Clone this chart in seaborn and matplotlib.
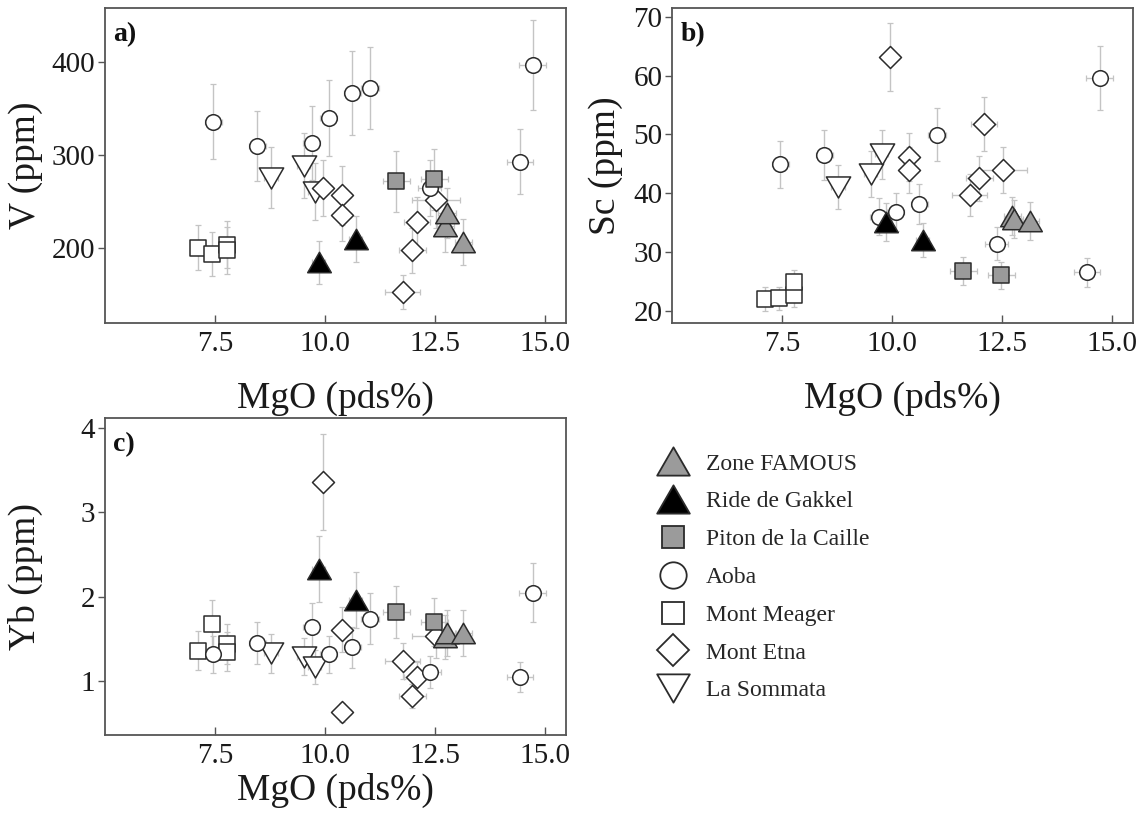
import numpy as np
import matplotlib
matplotlib.use("Agg")
import matplotlib.pyplot as plt
from matplotlib.lines import Line2D
from matplotlib.path import Path
import pandas as pd
import seaborn as sns

sns.set_theme(style="ticks")
plt.rcParams['font.family'] = ['Liberation Serif', 'DejaVu Serif']

# --- data (MgO in pds%, V/Sc/Yb in ppm) ---
groups = ['Zone FAMOUS', 'Ride de Gakkel', 'Piton de la Caille', 'Aoba',
          'Mont Meager', 'Mont Etna', 'La Sommata']

famous_mgo = [12.73, 12.77, 13.14]
famous_v = [224, 238, 207]
famous_sc = [36.1, 35.6, 35.3]
famous_yb = [1.52, 1.57, 1.57]
famous_mgo_err = [0.2, 0.2, 0.2]
famous_v_err = [28, 27, 25]
famous_sc_err = [3.2, 3.2, 3.2]
famous_yb_err = [0.26, 0.27, 0.27]

gakkel_mgo = [9.85, 10.69]
gakkel_v = [185, 210]
gakkel_sc = [35.1, 32.0]
gakkel_yb = [2.33, 1.96]
gakkel_mgo_err = [0.15, 0.15]
gakkel_v_err = [23, 25]
gakkel_sc_err = [3.2, 2.9]
gakkel_yb_err = [0.39, 0.33]

piton_mgo = [11.62, 12.48]
piton_v = [272, 274]
piton_sc = [26.8, 26.0]
piton_yb = [1.82, 1.70]
piton_mgo_err = [0.3, 0.3]
piton_v_err = [33, 33]
piton_sc_err = [2.4, 2.3]
piton_yb_err = [0.31, 0.29]

aoba_mgo = [7.46, 8.46, 9.69, 10.08, 10.62, 11.02, 12.37, 14.43, 14.71]
aoba_v = [336, 310, 313, 340, 367, 372, 265, 293, 397]
aoba_sc = [44.9, 46.5, 36.0, 36.8, 38.2, 49.9, 31.4, 26.5, 59.6]
aoba_yb = [1.32, 1.45, 1.64, 1.32, 1.40, 1.74, 1.11, 1.05, 2.05]
aoba_mgo_err = [0.2, 0.2, 0.2, 0.2, 0.2, 0.2, 0.25, 0.3, 0.3]
aoba_v_err = [40, 38, 40, 41, 45, 44, 30, 35, 48]
aoba_sc_err = [4.0, 4.2, 3.2, 3.3, 3.4, 4.5, 2.8, 2.4, 5.4]
aoba_yb_err = [0.22, 0.25, 0.28, 0.22, 0.24, 0.30, 0.19, 0.18, 0.35]

meager_mgo = [7.11, 7.44, 7.77, 7.77]
meager_v = [201, 194, 204, 198]
meager_sc = [22.0, 22.1, 22.6, 24.8]
meager_yb = [1.36, 1.68, 1.44, 1.35]
meager_mgo_err = [0.15, 0.15, 0.15, 0.15]
meager_v_err = [24, 24, 25, 25]
meager_sc_err = [2.0, 2.0, 2.0, 2.2]
meager_yb_err = [0.23, 0.28, 0.24, 0.23]

etna_mgo = [9.95, 10.39, 10.39, 12.52, 12.09, 11.98, 11.76]
etna_v = [265, 257, 236, 252, 228, 198, 153]
etna_sc = [63.2, 46.1, 43.9, 43.9, 51.7, 42.5, 39.7]
etna_yb = [3.36, 1.61, 0.63, 1.53, 1.05, 0.82, 1.24]
etna_mgo_err = [0.2, 0.2, 0.2, 0.55, 0.3, 0.3, 0.4]
etna_v_err = [30, 32, 28, 30, 27, 24, 18]
etna_sc_err = [5.8, 4.1, 3.9, 3.9, 4.6, 3.8, 3.6]
etna_yb_err = [0.57, 0.27, 0.11, 0.26, 0.18, 0.14, 0.21]

sommata_mgo = [8.77, 9.51, 9.76]
sommata_v = [276, 289, 261]
sommata_sc = [41.0, 43.2, 46.6]
sommata_yb = [1.33, 1.29, 1.17]
sommata_mgo_err = [0.15, 0.15, 0.15]
sommata_v_err = [33, 35, 31]
sommata_sc_err = [3.7, 3.9, 4.2]
sommata_yb_err = [0.23, 0.22, 0.20]


def make_df(name, mgo, v, sc, yb, mgo_err, v_err, sc_err, yb_err):
    return pd.DataFrame({'group': name, 'MgO': mgo, 'V': v, 'Sc': sc, 'Yb': yb,
                         'MgO_err': mgo_err, 'V_err': v_err,
                         'Sc_err': sc_err, 'Yb_err': yb_err})


df = pd.concat([
    make_df('Zone FAMOUS', famous_mgo, famous_v, famous_sc, famous_yb,
            famous_mgo_err, famous_v_err, famous_sc_err, famous_yb_err),
    make_df('Ride de Gakkel', gakkel_mgo, gakkel_v, gakkel_sc, gakkel_yb,
            gakkel_mgo_err, gakkel_v_err, gakkel_sc_err, gakkel_yb_err),
    make_df('Piton de la Caille', piton_mgo, piton_v, piton_sc, piton_yb,
            piton_mgo_err, piton_v_err, piton_sc_err, piton_yb_err),
    make_df('Aoba', aoba_mgo, aoba_v, aoba_sc, aoba_yb,
            aoba_mgo_err, aoba_v_err, aoba_sc_err, aoba_yb_err),
    make_df('Mont Meager', meager_mgo, meager_v, meager_sc, meager_yb,
            meager_mgo_err, meager_v_err, meager_sc_err, meager_yb_err),
    make_df('Mont Etna', etna_mgo, etna_v, etna_sc, etna_yb,
            etna_mgo_err, etna_v_err, etna_sc_err, etna_yb_err),
    make_df('La Sommata', sommata_mgo, sommata_v, sommata_sc, sommata_yb,
            sommata_mgo_err, sommata_v_err, sommata_sc_err, sommata_yb_err),
], ignore_index=True)

# equilateral triangles as closed paths (matplotlib's ^ is taller than wide)
tri_up = Path([(-1, -0.866), (1, -0.866), (0, 0.866), (-1, -0.866)], closed=True)
tri_down = Path([(-1, 0.866), (1, 0.866), (0, -0.866), (-1, 0.866)], closed=True)

GRAY = '#9b9b9b'
EDGE = '#2b2b2b'
# marker, scatter size, legend size, face colour
style = {
    'Zone FAMOUS': (tri_up, 17.0, 23.5, GRAY),
    'Ride de Gakkel': (tri_up, 17.0, 23.5, 'black'),
    'Piton de la Caille': ('s', 11.0, 16.5, GRAY),
    'Aoba': ('o', 11.2, 19.0, 'white'),
    'Mont Meager': ('s', 11.3, 16.5, 'white'),
    'Mont Etna': ('D', 11.2, 16.5, 'white'),
    'La Sommata': (tri_down, 17.5, 23.5, 'white'),
}
draw_order = ['La Sommata', 'Mont Etna', 'Mont Meager', 'Aoba',
              'Piton de la Caille', 'Ride de Gakkel', 'Zone FAMOUS']

W, H = 1143, 816
fig = plt.figure(figsize=(W / 100, H / 100), dpi=100)


def px_axes(left, top, right, bottom):
    return fig.add_axes([left / W, 1 - bottom / H, (right - left) / W, (bottom - top) / H])


ax_a = px_axes(105, 8, 566, 323)
ax_b = px_axes(672, 8, 1133, 323)
ax_c = px_axes(105, 418, 566, 735)

panels = [
    (ax_a, 'V', 'V (ppm)', 'a)', (120, 458), [200, 300, 400], -0.134, -0.183),
    (ax_b, 'Sc', 'Sc (ppm)', 'b)', (17.9, 71.5), [20, 30, 40, 50, 60, 70], -0.106, -0.183),
    (ax_c, 'Yb', 'Yb (ppm)', 'c)', (0.36, 4.12), [1, 2, 3, 4], -0.134, -0.12),
]

for ax, col, ylab, tag, ylim, yticks, ylab_x, xlab_y in panels:
    for g in draw_order:
        sub = df[df['group'] == g]
        ax.errorbar(sub['MgO'], sub[col], yerr=sub[col + '_err'], xerr=sub['MgO_err'],
                    fmt='none', ecolor='#c4c4c4', elinewidth=1.0, capsize=2.2,
                    capthick=0.9, zorder=1)
    for g in draw_order:
        sub = df[df['group'] == g]
        marker, size, _, face = style[g]
        sns.scatterplot(data=sub, x='MgO', y=col, ax=ax, marker=marker, s=size ** 2,
                        color=face, edgecolor=EDGE, linewidth=1.1, legend=False, zorder=3)
    ax.set_xlim(5.0, 15.47)
    ax.set_ylim(*ylim)
    ax.set_xticks([7.5, 10.0, 12.5, 15.0])
    ax.set_xticklabels(['7.5', '10.0', '12.5', '15.0'])
    ax.set_yticks(yticks)
    ax.tick_params(axis='x', direction='in', length=6, width=1, color='#555555',
                   labelsize=21, pad=6, labelcolor='#1a1a1a')
    ax.tick_params(axis='y', direction='out', length=5, width=1, color='#555555',
                   labelsize=21, pad=2, labelcolor='#1a1a1a')
    for sp in ax.spines.values():
        sp.set_visible(True)
        sp.set_color('#555555')
        sp.set_linewidth(1.3)
    ax.set_xlabel('MgO (pds%)', fontsize=27, color='#1a1a1a')
    ax.set_ylabel(ylab, fontsize=27, color='#1a1a1a')
    ax.xaxis.set_label_coords(0.5, xlab_y)
    ax.yaxis.set_label_coords(ylab_x, 0.5)
    ax.text(0.018, 0.955, tag, transform=ax.transAxes, fontsize=20, fontweight='bold',
            va='top', ha='left', color='#111111')

handles = []
for g in groups:
    marker, _, lsize, face = style[g]
    handles.append(Line2D([], [], linestyle='none', marker=marker, markersize=lsize,
                          markerfacecolor=face, markeredgecolor=EDGE, markeredgewidth=1.3))
fig.legend(handles, groups, loc='upper left', bbox_to_anchor=(655 / W, 1 - 453 / H),
           frameon=False, fontsize=17, handlelength=1.5, handletextpad=0.65,
           labelspacing=0.69, borderpad=0, borderaxespad=0)

fig.savefig('out.png', dpi=100)
